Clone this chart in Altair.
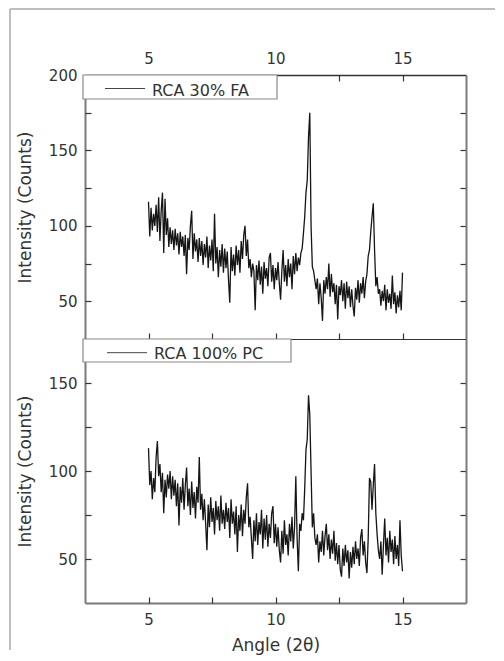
import altair as alt
import pandas as pd

# ---------------- data ----------------
ANGLE_START = 5.0   # degrees 2-theta, first sample
ANGLE_STEP = 0.05   # sampling step of the traces below

SERIES_TOP = "RCA 30% FA"
SERIES_BOTTOM = "RCA 100% PC"

# Intensity (counts), 5.00 ... 15.00 deg, step 0.05
fa_counts = [
    116, 93, 112, 97, 108, 100, 114, 96, 119, 90,
    110, 122, 82, 118, 94, 105, 86, 99, 88, 97,
    84, 98, 87, 95, 81, 96, 86, 93, 80, 94,
    68, 92, 84, 100, 110, 78, 95, 83, 91, 76,
    92, 80, 90, 74, 88, 79, 93, 72, 87, 77,
    91, 70, 108, 75, 86, 66, 84, 73, 88, 69,
    85, 72, 83, 64, 49, 86, 70, 81, 67, 87,
    74, 84, 69, 90, 78, 94, 100, 80, 91, 72,
    78, 66, 75, 70, 44, 74, 64, 77, 61, 73,
    55, 76, 65, 72, 60, 79, 82, 63, 74, 58,
    72, 64, 76, 62, 51, 70, 84, 63, 74, 60,
    78, 66, 75, 58, 80, 68, 82, 70, 79, 74,
    82, 85, 95, 106, 122, 130, 159, 175, 100, 73,
    70, 64, 58, 65, 48, 62, 52, 37, 64, 55,
    66, 58, 75, 53, 68, 56, 62, 48, 61, 38,
    60, 54, 64, 50, 62, 45, 63, 52, 60, 46,
    58, 47, 40, 59, 51, 64, 49, 62, 55, 66,
    52, 63, 68, 80, 84, 96, 106, 115, 84, 60,
    66, 55, 58, 47, 57, 50, 61, 44, 58, 49,
    55, 45, 67, 48, 56, 42, 54, 46, 57, 44,
    69,
]

pc_counts = [
    113, 92, 100, 84, 96, 88, 108, 117, 97, 104,
    88, 99, 76, 95, 85, 98, 90, 100, 84, 97,
    86, 95, 80, 93, 69, 91, 82, 96, 78, 92,
    102, 80, 90, 75, 94, 79, 88, 73, 91, 82,
    108, 78, 87, 72, 84, 70, 55, 81, 68, 85,
    71, 79, 64, 83, 72, 80, 66, 86, 70, 78,
    67, 82, 71, 79, 62, 84, 70, 77, 64, 80,
    54, 75, 66, 81, 63, 78, 70, 85, 93, 68,
    74, 62, 50, 72, 60, 76, 58, 71, 64, 78,
    56, 73, 61, 75, 57, 70, 62, 76, 80, 59,
    70, 57, 68, 55, 48, 66, 53, 72, 58, 64,
    52, 70, 60, 74, 56, 68, 97, 62, 43, 70,
    66, 76, 72, 90, 112, 118, 143, 132, 100, 68,
    76, 62, 58, 64, 48, 60, 54, 66, 52, 63,
    70, 55, 64, 50, 61, 53, 66, 49, 59, 47,
    58, 44, 40, 56, 46, 58, 48, 55, 39, 54,
    45, 57, 47, 60, 50, 56, 46, 62, 67, 52,
    60, 48, 42, 62, 96, 94, 78, 92, 104, 76,
    64, 55, 50, 60, 41, 58, 73, 52, 62, 48,
    66, 54, 61, 47, 63, 50, 58, 46, 72, 52,
    43,
]

X_DOMAIN = [2.5, 17.5]
TOP_Y_DOMAIN = [25, 200]
BOTTOM_Y_DOMAIN = [25, 175]
X_LABELS = [5, 10, 15]
X_TICKS = [5, 7.5, 10, 12.5, 15]
TOP_Y_LABELS = [50, 100, 150, 200]
TOP_Y_TICKS = [50, 75, 100, 125, 150, 175]
BOTTOM_Y_LABELS = [50, 100, 150]
BOTTOM_Y_TICKS = [50, 75, 100, 125, 150]

X_TITLE = "Angle (2θ)"
Y_TITLE = "Intensity (Counts)"

# ---------------- style ----------------
W, H = 381, 264
FONT = "DejaVu Sans"
TEXT = "#333333"
DARK = "#333333"
FRAME_GRAY = "#7a7a7a"
TRACE = "#151515"


def panel(series, counts, y_domain, y_labels, y_ticks, is_top, legend_w, legend_h,
          sample_x, sample_y, text_x, text_y):
    angles = [round(ANGLE_START + ANGLE_STEP * i, 2) for i in range(len(counts))]
    df = pd.DataFrame({"angle": angles, "counts": counts})
    xs = alt.Scale(domain=X_DOMAIN, nice=False, zero=False)
    ys = alt.Scale(domain=y_domain, nice=False, zero=False)
    base = alt.Chart(df)

    if is_top:
        x_main = alt.Axis(orient="top", values=X_LABELS, ticks=False, labelPadding=9,
                          domainColor=DARK, domainWidth=1.5, title=None, grid=False)
    else:
        x_main = alt.Axis(orient="bottom", values=X_LABELS, ticks=False, labelPadding=9,
                          domainColor=FRAME_GRAY, domainWidth=2, title=X_TITLE,
                          titlePadding=10, grid=False)
    y_main = alt.Axis(orient="left", values=y_labels, ticks=False, labelPadding=8,
                      domainColor=FRAME_GRAY, domainWidth=2, title=Y_TITLE,
                      titlePadding=14, grid=False)

    trace = base.mark_line(color=TRACE, strokeWidth=1.3).encode(
        x=alt.X("angle:Q", scale=xs, axis=x_main),
        y=alt.Y("counts:Q", scale=ys, axis=y_main),
    )

    tick_style = dict(labels=False, tickSize=6, tickWidth=1.2, tickColor=DARK,
                      title=None, grid=False)
    # inward ticks on bottom edge and left edge
    ticks_a = base.mark_line(opacity=0).encode(
        x=alt.X("angle:Q", scale=xs,
                axis=alt.Axis(orient="top", offset=-H, values=X_TICKS, domain=is_top,
                              domainColor=DARK, domainWidth=1.2, **tick_style)),
        y=alt.Y("counts:Q", scale=ys,
                axis=alt.Axis(orient="right", offset=-W, values=y_ticks, domain=False,
                              **tick_style)),
    )
    # inward ticks on top edge (top panel) and right edge with its frame line
    ticks_b = base.mark_line(opacity=0).encode(
        x=alt.X("angle:Q", scale=xs,
                axis=alt.Axis(orient="bottom", offset=-H, values=X_TICKS, ticks=is_top,
                              domain=not is_top, domainColor=DARK, domainWidth=1.2,
                              **tick_style)),
        y=alt.Y("counts:Q", scale=ys,
                axis=alt.Axis(orient="left", offset=-W, values=y_ticks, domain=True,
                              domainColor=FRAME_GRAY, domainWidth=2, **tick_style)),
    )

    leg = alt.Chart(pd.DataFrame({"series": [series]}))
    box = leg.mark_rect(fill="white", stroke="#8a8a8a", strokeWidth=1.2).encode(
        x=alt.value(-2), x2=alt.value(legend_w), y=alt.value(0), y2=alt.value(legend_h))
    sample = leg.mark_rule(color="#444444", strokeWidth=1).encode(
        x=alt.value(sample_x[0]), x2=alt.value(sample_x[1]), y=alt.value(sample_y))
    label = leg.mark_text(align="left", baseline="alphabetic", font=FONT, fontSize=16,
                          color=TEXT).encode(
        x=alt.value(text_x), y=alt.value(text_y), text="series:N")

    layers = [trace, ticks_a, ticks_b, box, sample, label]
    if is_top:
        border = alt.Chart(pd.DataFrame({"k": [0]})).mark_rule(color="#a8a8a8", strokeWidth=1.5)
        layers.append(border.encode(x=alt.value(-75), x2=alt.value(410), y=alt.value(-66)))
        layers.append(border.encode(x=alt.value(-75), y=alt.value(-66), y2=alt.value(575)))

    return alt.layer(*layers).resolve_axis(x="independent", y="independent").properties(
        width=W, height=H)


top = panel(SERIES_TOP, fa_counts, TOP_Y_DOMAIN, TOP_Y_LABELS, TOP_Y_TICKS, True,
            192, 24, (20, 60), 13.5, 67, 20.7)
bottom = panel(SERIES_BOTTOM, pc_counts, BOTTOM_Y_DOMAIN, BOTTOM_Y_LABELS, BOTTOM_Y_TICKS,
               False, 206, 23, (22, 62), 13.7, 69, 20.3)

chart = alt.vconcat(top, bottom, spacing=0, bounds="flush").properties(
    padding={"left": 1, "top": 0, "right": 0, "bottom": 3}
).configure_view(stroke=None).configure_axis(
    labelFont=FONT, labelFontSize=15, labelColor=TEXT,
    titleFont=FONT, titleFontSize=17, titleFontWeight="normal", titleColor=TEXT,
    grid=False,
)

chart.save("out.html", embed_options={"renderer": "svg", "actions": False})
